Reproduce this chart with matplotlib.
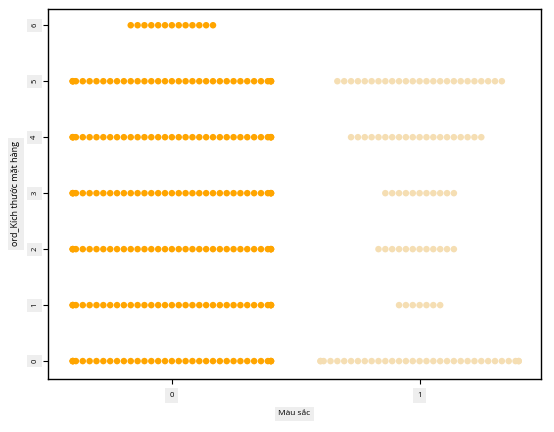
import matplotlib
matplotlib.use("Agg")
import matplotlib.pyplot as plt
import seaborn as sns
import pandas as pd
import numpy as np
import warnings
warnings.filterwarnings("ignore")

# Data: number of items at each size level (0..6) per colour group
sizes = [0, 1, 2, 3, 4, 5, 6]
counts_color0 = [35, 35, 35, 35, 35, 35, 13]
counts_color1 = [33, 7, 12, 11, 20, 25, 0]
groups = ["0", "1"]
palette = {"0": "#FFA500", "1": "#F5DEB3"}
ytick_labels = ["0", "1", "2", "3", "4", "5", "6"]
xtick_labels = ["0", "1"]

rows = []
for g, counts in zip(groups, [counts_color0, counts_color1]):
    for s, c in zip(sizes, counts):
        rows += [(g, s)] * c
df = pd.DataFrame(rows, columns=["Màu sắc", "ord_Kích thước mặt hàng"])

plt.rcParams['font.family'] = ['Open Sans', 'DejaVu Sans']
fig = plt.figure(figsize=(5.54, 4.32), dpi=100)
ax = fig.add_axes([48/554, 53/432, (541-48)/554, (379-9)/432])

sns.swarmplot(data=df, x="Màu sắc", y="ord_Kích thước mặt hàng", hue="Màu sắc",
              order=groups, hue_order=groups, palette=palette, size=4.7,
              legend=False, ax=ax)

ax.set_xlim(-0.5, 1.49)
ax.set_ylim(-0.32, 6.29)
ax.set_yticks(sizes)
ax.set_yticklabels(ytick_labels, rotation=90, va="center")
ax.set_xticks([0, 1])
ax.set_xticklabels(xtick_labels)

for lab in ax.get_yticklabels() + ax.get_xticklabels():
    lab.set_fontsize(5.5)
    lab.set_bbox(dict(boxstyle="square,pad=0.55", fc="#eeeeee", ec="none"))
ax.tick_params(axis="both", length=3.5, width=0.8, color="black")
ax.tick_params(axis="y", pad=3.5)
ax.tick_params(axis="x", pad=6)

ax.set_xlabel("Màu sắc", fontsize=6, labelpad=8,
              bbox=dict(boxstyle="square,pad=0.4", fc="#eeeeee", ec="none"))
ax.set_ylabel("ord_Kích thước mặt hàng", fontsize=6.5, labelpad=8,
              bbox=dict(boxstyle="square,pad=0.4", fc="#eeeeee", ec="none"))

for sp in ax.spines.values():
    sp.set_visible(True)
    sp.set_color("black")
    sp.set_linewidth(1.0)

fig.savefig("out.png", dpi=100)
